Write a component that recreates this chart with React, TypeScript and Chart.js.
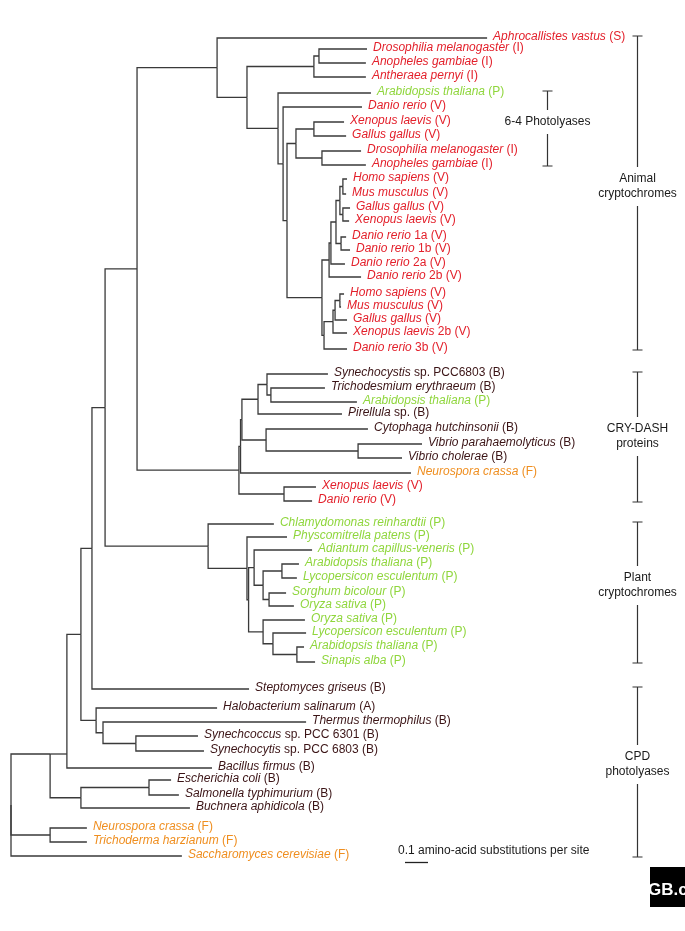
import React, { useEffect, useRef } from "react";
import { Chart, registerables } from "chart.js";

Chart.register(...registerables);

// ---------- Leaves (top to bottom) ----------
const leafNames = [
  "Aphrocallistes vastus", "Drosophilia melanogaster", "Anopheles gambiae", "Antheraea pernyi",
  "Arabidopsis thaliana", "Danio rerio", "Xenopus laevis", "Gallus gallus",
  "Drosophilia melanogaster", "Anopheles gambiae", "Homo sapiens", "Mus musculus",
  "Gallus gallus", "Xenopus laevis", "Danio rerio", "Danio rerio",
  "Danio rerio", "Danio rerio", "Homo sapiens", "Mus musculus",
  "Gallus gallus", "Xenopus laevis", "Danio rerio", "Synechocystis",
  "Trichodesmium erythraeum", "Arabidopsis thaliana", "Pirellula", "Cytophaga hutchinsonii",
  "Vibrio parahaemolyticus", "Vibrio cholerae", "Neurospora crassa", "Xenopus laevis",
  "Danio rerio", "Chlamydomonas reinhardtii", "Physcomitrella patens", "Adiantum capillus-veneris",
  "Arabidopsis thaliana", "Lycopersicon esculentum", "Sorghum bicolour", "Oryza sativa",
  "Oryza sativa", "Lycopersicon esculentum", "Arabidopsis thaliana", "Sinapis alba",
  "Steptomyces griseus", "Halobacterium salinarum", "Thermus thermophilus", "Synechcoccus",
  "Synechocytis", "Bacillus firmus", "Escherichia coli", "Salmonella typhimurium",
  "Buchnera aphidicola", "Neurospora crassa", "Trichoderma harzianum", "Saccharomyces cerevisiae",
];

const leafQualifiers = [
  "", "", "", "", "", "", "", "", "", "", "", "", "", "", "1a", "1b",
  "2a", "2b", "", "", "", "2b", "3b", "sp. PCC6803", "", "", "sp.", "",
  "", "", "", "", "", "", "", "", "", "", "", "",
  "", "", "", "", "", "", "", "sp. PCC 6301", "sp. PCC 6803", "", "", "",
  "", "", "", "",
];

const leafGroups = [
  "S", "I", "I", "I", "P", "V", "V", "V", "I", "I", "V", "V", "V", "V", "V", "V",
  "V", "V", "V", "V", "V", "V", "V", "B", "B", "P", "B", "B", "B", "B", "F", "V",
  "V", "P", "P", "P", "P", "P", "P", "P", "P", "P", "P", "P", "B", "A", "B", "B",
  "B", "B", "B", "B", "B", "F", "F", "F",
];

// vertical row position of each leaf
const leafY = [
  38, 49, 63, 77, 93, 107, 122, 136, 151, 165, 179, 194, 208, 221, 237, 250,
  264, 277, 294, 307, 320, 333, 349, 374, 388, 402, 414, 429, 444, 458, 473, 487,
  501, 524, 537, 550, 564, 578, 593, 606, 620, 633, 647, 662, 689, 708, 722, 736,
  751, 768, 780, 795, 808, 828, 842, 856,
];

// distance of each leaf tip from the root (substitutions per site)
const leafTip = [
  2.07, 1.548, 1.543, 1.543, 1.565, 1.526, 1.448, 1.457, 1.522, 1.543, 1.461, 1.457, 1.474, 1.47, 1.457, 1.474,
  1.452, 1.522, 1.448, 1.435, 1.461, 1.461, 1.461, 1.378, 1.365, 1.504, 1.439, 1.552, 1.787, 1.7, 1.739, 1.326,
  1.309, 1.143, 1.2, 1.309, 1.252, 1.243, 1.196, 1.23, 1.278, 1.283, 1.274, 1.322, 1.035, 0.896, 1.283, 0.813,
  0.839, 0.874, 0.696, 0.73, 0.778, 0.33, 0.33, 0.743,
];

// ---------- Internal nodes ----------
const nodeIds = [
  "root", "cpd", "n67", "n81", "n92", "n105", "A0", "A1", "A2", "ins", "ins2", "B", "C", "D", "E", "F", "G",
  "vH", "vI", "vJ", "vK", "vL", "vN", "vO", "vM", "vP", "vQ", "vR", "vS",
  "X0", "X2", "X1", "V", "T", "U", "W", "Vib", "XD",
  "P0", "P1", "P2", "P3", "P4", "P5a", "P5b", "P6", "P7", "P8",
  "halo", "Q2", "Q3", "eco", "ecSal", "fungi",
];
const nodeX = [
  0, 0.17, 0.243, 0.304, 0.352, 0.409, 0.548, 0.896, 1.026, 1.317, 1.339, 1.161, 1.183, 1.2, 1.239, 1.317, 1.352,
  1.352, 1.383, 1.391, 1.413, 1.43, 1.443, 1.443, 1.435, 1.361, 1.4, 1.409, 1.43,
  0.991, 0.998, 1.004, 1.074, 1.113, 1.13, 1.109, 1.509, 1.187,
  0.857, 1.026, 1.033, 1.057, 1.096, 1.178, 1.122, 1.096, 1.139, 1.243,
  0.37, 0.4, 0.543, 0.304, 0.6, 0.17,
];
// children: numbers are leaf numbers (1-based), strings are node ids
const nodeKids: (number | string)[][] = [
  ["cpd", "fungi", 56], ["n67", "eco"], ["n81", 50], ["n92", "halo"], ["n105", 45], ["A0", "P0"],
  ["A1", "X0"], [1, "A2"], ["ins", "B"], ["ins2", 4], [2, 3], [5, "C"], [6, "D"], ["E", "vH"],
  ["F", "G"], [7, 8], [9, 10],
  ["vI", "vP"], ["vJ", 18], ["vK", 17], ["vL", "vM"], ["vN", "vO"], [11, 12], [13, 14], [15, 16],
  ["vQ", 23], ["vR", 22], ["vS", 21], [19, 20],
  ["X2", "XD"], ["X1", 31], ["V", "W"], ["T", 27], [24, "U"], [25, 26], [28, "Vib"], [29, 30], [32, 33],
  [34, "P1"], [35, "P2"], ["P3", "P6"], [36, "P4"], ["P5a", "P5b"], [37, 38], [39, 40], [41, "P7"], [42, "P8"], [43, 44],
  [46, "Q2"], [47, "Q3"], [48, 49], ["ecSal", 53], [51, 52], [54, 55],
];
// where the parent branch joins (null = middle of the children)
const nodeJoinY: (number | null)[] = nodeIds.map((id) => (id === "cpd" || id === "n67" ? 754 : null));

// ---------- Clade brackets ----------
const cladeLabels = [["Animal", "cryptochromes"], ["6-4 Photolyases"], ["CRY-DASH", "proteins"], ["Plant", "cryptochromes"], ["CPD", "photolyases"]];
const cladeFirstLeaf = [1, 5, 24, 34, 45];
const cladeLastLeaf = [23, 10, 33, 44, 56];
const cladeX = [2.722, 2.33, 2.722, 2.722, 2.722];
const cladeLabelRow = [11.5, 7, 28.5, 38.5, 49.8];

const scaleBarLength = 0.1;
const scaleBarStart = 1.713;
const scaleBarRow = 862;
const scaleBarText = "0.1 amino-acid substitutions per site";

const groupColor: Record<string, string> = {
  S: "#e3202b", I: "#e3202b", V: "#e3202b",
  P: "#8fd63c", F: "#ef8e1f", B: "#3b1416", A: "#3b1416",
};

const FONT = '"Liberation Sans", Arial, Helvetica, sans-serif';

function buildSegments() {
  const pos: Record<string, { x: number; y: number }> = {};
  leafY.forEach((y, i) => (pos["L" + (i + 1)] = { x: leafTip[i], y }));
  const key = (k: number | string) => (typeof k === "number" ? "L" + k : k);
  const idx: Record<string, number> = {};
  nodeIds.forEach((id, i) => (idx[id] = i));
  const resolve = (id: string): { x: number; y: number } => {
    if (pos[id]) return pos[id];
    const i = idx[id];
    const kids = nodeKids[i].map((k) => resolve(key(k)));
    const y = nodeJoinY[i] ?? (kids[0].y + kids[kids.length - 1].y) / 2;
    pos[id] = { x: nodeX[i], y };
    return pos[id];
  };
  resolve("root");
  const segs: { x: number; y: number }[][] = [];
  nodeIds.forEach((id, i) => {
    const p = pos[id];
    nodeKids[i].forEach((k) => {
      const c = pos[key(k)];
      segs.push([{ x: p.x, y: p.y }, { x: p.x, y: c.y }, { x: c.x, y: c.y }]);
    });
  });
  return segs;
}

function rowAt(r: number) {
  const i = Math.floor(r) - 1;
  const f = r - Math.floor(r);
  if (f === 0 || i + 1 >= leafY.length) return leafY[i];
  return leafY[i] + (leafY[i + 1] - leafY[i]) * f;
}

const labelPlugin = {
  id: "treeLabels",
  afterDatasetsDraw(chart: any) {
    const ctx: CanvasRenderingContext2D = chart.ctx;
    const xs = chart.scales.x;
    const ys = chart.scales.y;
    ctx.save();
    ctx.textBaseline = "middle";
    ctx.textAlign = "left";
    // leaf labels
    leafNames.forEach((name, i) => {
      let px = xs.getPixelForValue(leafTip[i]) + 6;
      const py = ys.getPixelForValue(leafY[i]) - 1;
      ctx.fillStyle = groupColor[leafGroups[i]];
      ctx.font = "italic 12px " + FONT;
      ctx.fillText(name, px, py);
      px += ctx.measureText(name).width;
      ctx.font = "12px " + FONT;
      const rest = (leafQualifiers[i] ? " " + leafQualifiers[i] : "") + " (" + leafGroups[i] + ")";
      ctx.fillText(rest, px, py);
    });
    // clade brackets
    ctx.strokeStyle = "#333";
    ctx.lineWidth = 1.2;
    cladeLabels.forEach((lines, c) => {
      const bx = Math.round(xs.getPixelForValue(cladeX[c])) + 0.5;
      const y0 = ys.getPixelForValue(leafY[cladeFirstLeaf[c] - 1]) - 2;
      const y1 = ys.getPixelForValue(leafY[cladeLastLeaf[c] - 1]) + 1;
      const cy = ys.getPixelForValue(rowAt(cladeLabelRow[c]));
      const lh = 15;
      const top = cy - ((lines.length - 1) * lh) / 2;
      const bottom = cy + ((lines.length - 1) * lh) / 2;
      ctx.beginPath();
      ctx.moveTo(bx, y0);
      ctx.lineTo(bx, top - 12);
      ctx.moveTo(bx, bottom + 12);
      ctx.lineTo(bx, y1);
      ctx.moveTo(bx - 5, y0);
      ctx.lineTo(bx + 5, y0);
      ctx.moveTo(bx - 5, y1);
      ctx.lineTo(bx + 5, y1);
      ctx.stroke();
      ctx.fillStyle = "#1a1a1a";
      ctx.font = "12px " + FONT;
      ctx.textAlign = "center";
      lines.forEach((t, j) => ctx.fillText(t, bx, top + j * lh));
      ctx.textAlign = "left";
    });
    // scale bar
    const sx0 = xs.getPixelForValue(scaleBarStart);
    const sx1 = xs.getPixelForValue(scaleBarStart + scaleBarLength);
    const sy = Math.round(ys.getPixelForValue(scaleBarRow)) + 0.5;
    ctx.strokeStyle = "#222";
    ctx.lineWidth = 1.3;
    ctx.beginPath();
    ctx.moveTo(sx0, sy);
    ctx.lineTo(sx1, sy);
    ctx.stroke();
    ctx.fillStyle = "#1a1a1a";
    ctx.font = "12px " + FONT;
    ctx.fillText(scaleBarText, sx0 - 7, sy - 12);
    // journal mark
    ctx.fillStyle = "#000";
    ctx.fillRect(650, 867, 35, 40);
    ctx.save();
    ctx.beginPath();
    ctx.rect(650, 867, 35, 40);
    ctx.clip();
    ctx.fillStyle = "#fff";
    ctx.font = "bold 17px " + FONT;
    ctx.textBaseline = "alphabetic";
    ctx.fillText("GB.c", 648, 895);
    ctx.restore();
    ctx.restore();
  },
};

export default function App() {
  const ref = useRef<HTMLCanvasElement>(null);
  useEffect(() => {
    if (!ref.current) return;
    const segs = buildSegments();
    const chart = new Chart(ref.current, {
      type: "scatter",
      data: {
        datasets: segs.map((s) => ({
          data: s,
          showLine: true,
          borderColor: "#3a3a3a",
          borderWidth: 1.3,
          pointRadius: 0,
          pointHoverRadius: 0,
          fill: false,
          tension: 0,
        })),
      },
      options: {
        responsive: false,
        maintainAspectRatio: false,
        animation: false,
        devicePixelRatio: 1,
        layout: { padding: 0 },
        plugins: { legend: { display: false }, tooltip: { enabled: false } },
        events: [],
        scales: {
          x: { type: "linear", min: -11 / 230, max: 674 / 230, display: false },
          y: { type: "linear", min: 0, max: 931, reverse: true, display: false },
        },
      },
      plugins: [labelPlugin],
    });
    return () => chart.destroy();
  }, []);
  return (
    <div style={{ position: "absolute", left: 0, top: 0, width: 685, height: 931, background: "#fff" }}>
      <canvas ref={ref} width={685} height={931} style={{ display: "block" }} />
    </div>
  );
}
